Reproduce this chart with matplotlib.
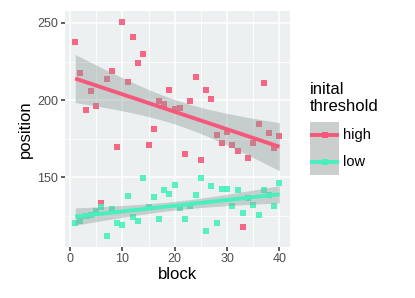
import numpy as np
import matplotlib
matplotlib.use("Agg")
import matplotlib.pyplot as plt
from matplotlib.patches import Rectangle
from matplotlib.lines import Line2D

plt.rcParams['font.family'] = ['Liberation Sans', 'DejaVu Sans']

# ---------------------------------------------------------------- data
BLOCKS = list(range(1, 41))

HIGH = [237.6, 217.6, 193.5, 205.7, 196.5, 133.6, 213.9, 218.9, 169.4, 250.8,
        211.9, 241.2, 223.9, 229.8, 170.9, 181.1, 199.5, 197.4, 206.3, 194.3,
        195.0, 164.8, 199.5, 215.2, 160.9, 206.5, 200.5, 177.4, 172.0, 179.6,
        170.9, 167.0, 117.7, 162.2, 172.4, 184.6, 211.3, 178.5, 168.7, 177.0]

LOW = [120.1, 122.0, 124.9, 125.7, 127.9, 130.5, 112.1, 129.4, 120.3, 119.4,
       137.7, 124.2, 121.8, 149.6, 130.5, 137.0, 122.7, 142.0, 139.2, 145.3,
       130.1, 122.7, 131.1, 138.3, 149.6, 114.9, 144.4, 120.5, 142.2, 142.7,
       131.4, 142.0, 127.0, 136.6, 131.8, 125.7, 141.6, 138.3, 131.4, 146.6]

GROUPS = ["high", "low"]
COLORS = {"high": "#F5587A", "low": "#48F0BE"}

X_TICKS = [0, 10, 20, 30, 40]
Y_TICKS = [150, 200, 250]

T_CRIT = 2.024  # t(0.975, df=38)

PANEL_BG = "#ECF0F0"
RIBBON = "#8E9C9A"


def lm_band(x, y, xs):
    x = np.asarray(x, float)
    y = np.asarray(y, float)
    b1, b0 = np.polyfit(x, y, 1)
    resid = y - (b0 + b1 * x)
    n = len(x)
    s = np.sqrt(np.sum(resid ** 2) / (n - 2))
    sxx = np.sum((x - x.mean()) ** 2)
    fit = b0 + b1 * xs
    se = s * np.sqrt(1.0 / n + (xs - x.mean()) ** 2 / sxx)
    return fit, fit - T_CRIT * se, fit + T_CRIT * se


# ---------------------------------------------------------------- figure
W, H = 415, 298
fig = plt.figure(figsize=(W / 100, H / 100), dpi=100)
left, right, top, bottom = 65, 289.7, 11, 246.5
ax = fig.add_axes([left / W, 1 - bottom / H, (right - left) / W, (bottom - top) / H])
ax.set_facecolor(PANEL_BG)
for sp in ax.spines.values():
    sp.set_visible(False)

series = {"high": HIGH, "low": LOW}

# points
for g in GROUPS:
    ax.scatter(BLOCKS, series[g], marker="s", s=21, color=COLORS[g],
               alpha=0.9, linewidths=0, zorder=3)

# smooth
xs = np.linspace(min(BLOCKS), max(BLOCKS), 100)
for g in GROUPS:
    fit, lo, hi = lm_band(BLOCKS, series[g], xs)
    ax.fill_between(xs, lo, hi, color=RIBBON, alpha=0.4, linewidth=0, zorder=4)
    ax.plot(xs, fit, color=COLORS[g], lw=2.8, solid_capstyle="butt", zorder=5)

# ggplot-like expansion
allv = HIGH + LOW
yr = max(allv) - min(allv)
ax.set_ylim(min(allv) - 0.05 * yr, max(allv) + 0.05 * yr)
xr = max(BLOCKS) - min(BLOCKS)
ax.set_xlim(min(BLOCKS) - 0.05 * xr, max(BLOCKS) + 0.05 * xr)

ax.set_xticks(X_TICKS)
ax.set_yticks(Y_TICKS)
ax.set_xticks([5, 15, 25, 35], minor=True)
ax.set_yticks([125, 175, 225], minor=True)
ax.grid(which="major", color="white", lw=1.1, zorder=0)
ax.grid(which="minor", color="white", lw=0.55, zorder=0)
ax.set_axisbelow(True)
ax.tick_params(which="major", length=3, width=1.1, color="#333333",
               labelsize=9, labelcolor="#4D4D4D", pad=2)
ax.tick_params(which="minor", length=0)

ax.set_xlabel("block", fontsize=12, labelpad=1)
ax.set_ylabel("position", fontsize=12, labelpad=3)

# ---------------------------------------------------------------- legend
lax = fig.add_axes([0, 0, 1, 1])
lax.set_xlim(0, W)
lax.set_ylim(H, 0)
lax.axis("off")
lax.text(310, 98, "inital\nthreshold", fontsize=12, ha="left", va="center",
         linespacing=1.1)
for g, yc in zip(GROUPS, [135, 161.5]):
    lax.add_patch(Rectangle((310, yc - 13.5), 29, 27, facecolor="#F2F2F2",
                            edgecolor="none"))
    lax.add_patch(Rectangle((310, yc - 13.5), 29, 27, facecolor=RIBBON,
                            alpha=0.4, edgecolor="none"))
    lax.add_line(Line2D([312, 337], [yc, yc], color=COLORS[g], lw=2.8))
    lax.plot([324.5], [yc], marker="s", ms=4.5, color=COLORS[g], mew=0)
    lax.text(343, yc, g, fontsize=10.5, ha="left", va="center")

fig.savefig("out.png", dpi=100)
